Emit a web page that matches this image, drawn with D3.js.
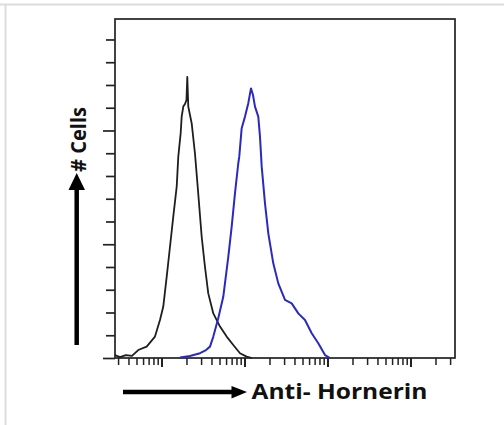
<!DOCTYPE html>
<html>
<head>
<meta charset="utf-8">
<script src="https://cdn.jsdelivr.net/npm/d3@7"></script>
<style>
	html, body { margin: 0; padding: 0; background: #fff; }
	svg { display: block; }
</style>
</head>
<body>
<div id="chart"></div>
<script>
// fluorescence intensity (log axis) and cell counts
var controlX = [2.75, 3.16, 3.73, 4.41, 5.25, 6.63, 8.35, 9.59, 10.5, 11.55, 12.66, 13.87,
	15.25, 15.94, 17.03, 17.51, 18.31, 19.19, 20.0, 20.46, 21.03, 23.1, 25.3, 27.7,
	30.5, 33.4, 36.6, 42.1, 50.7, 61.0, 73.3, 88.3, 106, 123];
var controlCounts = [1.3, 0.4, 1.3, 0.9, 3.5, 5.0, 9.4, 16.7, 22.5, 35.7, 48.9, 62.1,
	75.3, 88.5, 98.8, 106.1, 110.5, 111.6, 113.4, 123.6, 110.5, 103.2, 90.0, 72.4,
	53.3, 40.1, 28.4, 19.6, 13.8, 9.4, 5.7, 2.1, 0.6, 0];

var stainedX = [16.7, 22.0, 29.1, 34.4, 38.4, 42.1, 48.3, 55.5, 63.8, 70.1, 76.8, 84.2,
	86.5, 92.5, 101.4, 111.1, 119.7, 126.6, 133.8, 146.6, 153.7, 161.2, 176.6, 193.6,
	222.3, 255.4, 307.6, 370.4, 444.8, 535.6, 645.1, 774.5, 933.2, 1072];
var stainedCounts = [0.2, 0.9, 2.1, 3.5, 5.0, 9.4, 17.5, 26.9, 44.5, 57.7, 72.4, 85.6,
	88.5, 101.0, 106.1, 112.0, 118.5, 115.6, 110.5, 106.1, 97.3, 84.1, 68.0, 54.8,
	41.6, 32.8, 25.5, 24.0, 19.6, 16.7, 10.9, 6.5, 1.3, 0];

var xDomain = [2.754, 34360];
var yDomain = [0, 149];
var yTickValues = d3.range(0, 141, 10);
var yMajorTicks = [0, 50, 100];
var xMajorTicks = [10, 100, 1000, 10000];

var yLabel = "# Cells";
var xLabel = "Anti- Hornerin";

function drawHistogram(div) {
	'use strict';

	var width = 504, height = 425;
	var left = 115, right = 455, top = 19, bottom = 358;

	var svg = d3.select(div).append("svg")
		.attr("width", width)
		.attr("height", height)
		.attr("font-family", "'Open Sans', sans-serif");

	// light frame of the original screenshot
	svg.append("line")
		.attr("x1", 0).attr("x2", width).attr("y1", 4.5).attr("y2", 4.5)
		.attr("stroke", "#dcdcdc").attr("stroke-width", 2);
	svg.append("line")
		.attr("x1", 5.5).attr("x2", 5.5).attr("y1", 4).attr("y2", height)
		.attr("stroke", "#dcdcdc").attr("stroke-width", 2);

	var x = d3.scaleLog().domain(xDomain).range([left, right]);
	var y = d3.scaleLinear().domain(yDomain).range([bottom, top]);

	// x ticks: 2..9 of every decade inside the domain
	var xTicks = [];
	for (var p = 0; p <= 4; p++) {
		for (var m = 1; m <= 9; m++) {
			var v = m * Math.pow(10, p);
			if (v >= xDomain[0] && v <= xDomain[1]) xTicks.push(v);
		}
	}

	var xAxis = d3.axisBottom(x)
		.tickValues(xTicks)
		.tickSize(7)
		.tickFormat("");
	var gx = svg.append("g")
		.attr("transform", "translate(0," + bottom + ")")
		.call(xAxis);
	gx.select(".domain").remove();
	gx.selectAll(".tick line")
		.attr("stroke", "#222")
		.attr("stroke-width", function(d) { return xMajorTicks.indexOf(d) >= 0 ? 2 : 1.5; })
		.attr("y2", function(d) { return xMajorTicks.indexOf(d) >= 0 ? 9 : 7; });

	var yAxis = d3.axisLeft(y)
		.tickValues(yTickValues)
		.tickSize(9)
		.tickFormat("");
	var gy = svg.append("g")
		.attr("transform", "translate(" + left + ",0)")
		.call(yAxis);
	gy.select(".domain").remove();
	gy.selectAll(".tick line")
		.attr("stroke", "#222")
		.attr("stroke-width", 1.7)
		.attr("x2", function(d) { return yMajorTicks.indexOf(d) >= 0 ? -12 : -9; });

	// plot frame
	svg.append("rect")
		.attr("x", left).attr("y", top)
		.attr("width", right - left).attr("height", bottom - top)
		.attr("fill", "none")
		.attr("stroke", "#222")
		.attr("stroke-width", 1.7);

	var line = d3.line()
		.x(function(d) { return x(d[0]); })
		.y(function(d) { return y(d[1]); })
		.curve(d3.curveLinear);

	svg.append("path")
		.datum(d3.zip(controlX, controlCounts))
		.attr("d", line)
		.attr("fill", "none")
		.attr("stroke", "#1e1e1e")
		.attr("stroke-width", 1.8)
		.attr("stroke-linejoin", "round");

	svg.append("path")
		.datum(d3.zip(stainedX, stainedCounts))
		.attr("d", line)
		.attr("fill", "none")
		.attr("stroke", "#2a2ac0")
		.attr("stroke-width", 2)
		.attr("stroke-linejoin", "round");

	// axis titles with their arrows
	svg.append("line")
		.attr("x1", 76.7).attr("x2", 76.7).attr("y1", 345).attr("y2", 188)
		.attr("stroke", "#000").attr("stroke-width", 4.5);
	svg.append("path")
		.attr("d", "M76.7,173 L68.5,190 L85,190 Z")
		.attr("fill", "#000");
	svg.append("text")
		.attr("transform", "translate(86,139.5) rotate(-90)")
		.attr("text-anchor", "middle")
		.attr("font-weight", 700)
		.attr("font-size", "21px")
		.attr("fill", "#111")
		.attr("textLength", 65)
		.attr("lengthAdjust", "spacingAndGlyphs")
		.text(yLabel);

	svg.append("line")
		.attr("x1", 123).attr("x2", 234).attr("y1", 392).attr("y2", 392)
		.attr("stroke", "#000").attr("stroke-width", 4.5);
	svg.append("path")
		.attr("d", "M247,392 L231.5,386 L231.5,398.5 Z")
		.attr("fill", "#000");
	svg.append("text")
		.attr("x", 251.5).attr("y", 399)
		.attr("font-weight", 700)
		.attr("font-size", "21px")
		.attr("fill", "#111")
		.attr("textLength", 176)
		.attr("lengthAdjust", "spacingAndGlyphs")
		.text(xLabel);
}

drawHistogram(document.getElementById("chart"));
</script>
</body>
</html>
